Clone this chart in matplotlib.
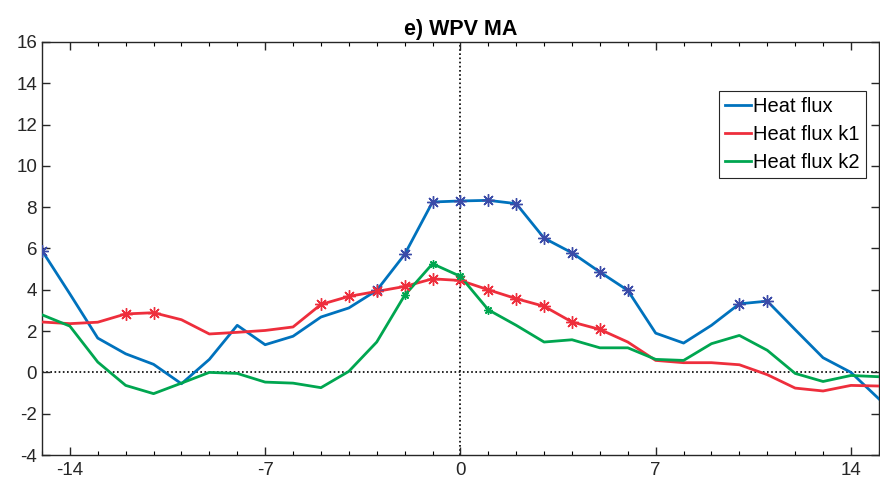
import numpy as np
import matplotlib
matplotlib.use("Agg")
import matplotlib.pyplot as plt
from matplotlib.ticker import MultipleLocator

# lag in days
days = list(range(-15, 16))

heat_flux = [5.9, 3.8, 1.66, 0.9, 0.39, -0.55, 0.63, 2.28, 1.34, 1.75,
             2.68, 3.12, 3.97, 5.71, 8.25, 8.3, 8.33, 8.17, 6.5, 5.79,
             4.86, 3.97, 1.9, 1.42, 2.28, 3.32, 3.45, 2.07, 0.71, 0.0, -1.28]
heat_flux_k1 = [2.44, 2.36, 2.43, 2.83, 2.89, 2.55, 1.86, 1.94, 2.03, 2.2,
                3.29, 3.68, 3.92, 4.16, 4.53, 4.45, 4.0, 3.57, 3.2, 2.44,
                2.08, 1.47, 0.58, 0.47, 0.47, 0.37, -0.11, -0.76, -0.9, -0.63, -0.66]
heat_flux_k2 = [2.79, 2.24, 0.5, -0.63, -1.03, -0.52, 0.0, -0.05, -0.47, -0.52,
                -0.74, 0.05, 1.47, 3.73, 5.26, 4.65, 3.03, 2.28, 1.47, 1.58,
                1.19, 1.19, 0.63, 0.58, 1.39, 1.79, 1.07, -0.05, -0.44, -0.15, -0.21]

# days marked as significant
sig_hf = [-15, -3, -2, -1, 0, 1, 2, 3, 4, 5, 6, 10, 11]
sig_k1 = [-12, -11, -5, -4, -3, -2, -1, 0, 1, 2, 3, 4, 5]
sig_k2 = [-2, -1, 0, 1]

blue = "#0072BD"
red = "#EE2E3C"
green = "#00A650"
star_blue = "#3B4BA8"

plt.rcParams['font.family'] = ['Liberation Sans', 'DejaVu Sans']
plt.rcParams['axes.unicode_minus'] = False

fig = plt.figure(figsize=(8.8, 4.82), dpi=100)
ax = fig.add_axes([0.0477, 0.056, 0.951, 0.857])

ax.axhline(0, color="black", linestyle=(0, (1, 1.5)), linewidth=1.2, zorder=1)
ax.axvline(0, color="black", linestyle=(0, (1, 1.5)), linewidth=1.2, zorder=1)

ax.plot(days, heat_flux, color=blue, lw=2.0, label="Heat flux", zorder=3)
ax.plot(days, heat_flux_k1, color=red, lw=2.0, label="Heat flux k1", zorder=3)
ax.plot(days, heat_flux_k2, color=green, lw=2.0, label="Heat flux k2", zorder=3)

def marks(sig, vals, col, ms):
    xs = [d for d in sig]
    ys = [vals[days.index(d)] for d in sig]
    ax.plot(xs, ys, linestyle="none", marker=(8, 2, 0), markersize=ms,
            markeredgecolor=col, markeredgewidth=1.0, zorder=4)

marks(sig_hf, heat_flux, star_blue, 9)
marks(sig_k1, heat_flux_k1, red, 9)
marks(sig_k2, heat_flux_k2, green, 6)

ax.set_xlim(-15, 15)
ax.set_ylim(-4, 16)
ax.set_xticks([-14, -7, 0, 7, 14])
ax.xaxis.set_minor_locator(MultipleLocator(1))
ax.set_yticks(np.arange(-4, 17, 2))

ax.tick_params(axis="both", which="major", direction="in", length=6, width=1,
               top=True, right=True, labelsize=13.5, colors="#262626")
ax.tick_params(axis="x", which="minor", direction="in", length=3, width=0.8,
               top=True, bottom=True)
ax.tick_params(axis="x", which="major", pad=5)
for s in ax.spines.values():
    s.set_color("#262626")
    s.set_linewidth(1)

ax.set_title("e) WPV MA", fontsize=15.5, fontweight="bold",
             family=['Liberation Sans Narrow', 'Liberation Sans'], pad=5)

leg = ax.legend(loc="upper right", bbox_to_anchor=(0.9845, 0.881), fontsize=14.5,
                handlelength=1.3, handletextpad=0.1, borderpad=0.3,
                labelspacing=0.45, fancybox=False, framealpha=1, borderaxespad=0)
leg.get_frame().set_edgecolor("#262626")
leg.get_frame().set_linewidth(0.8)

fig.savefig("out.png", dpi=100)
